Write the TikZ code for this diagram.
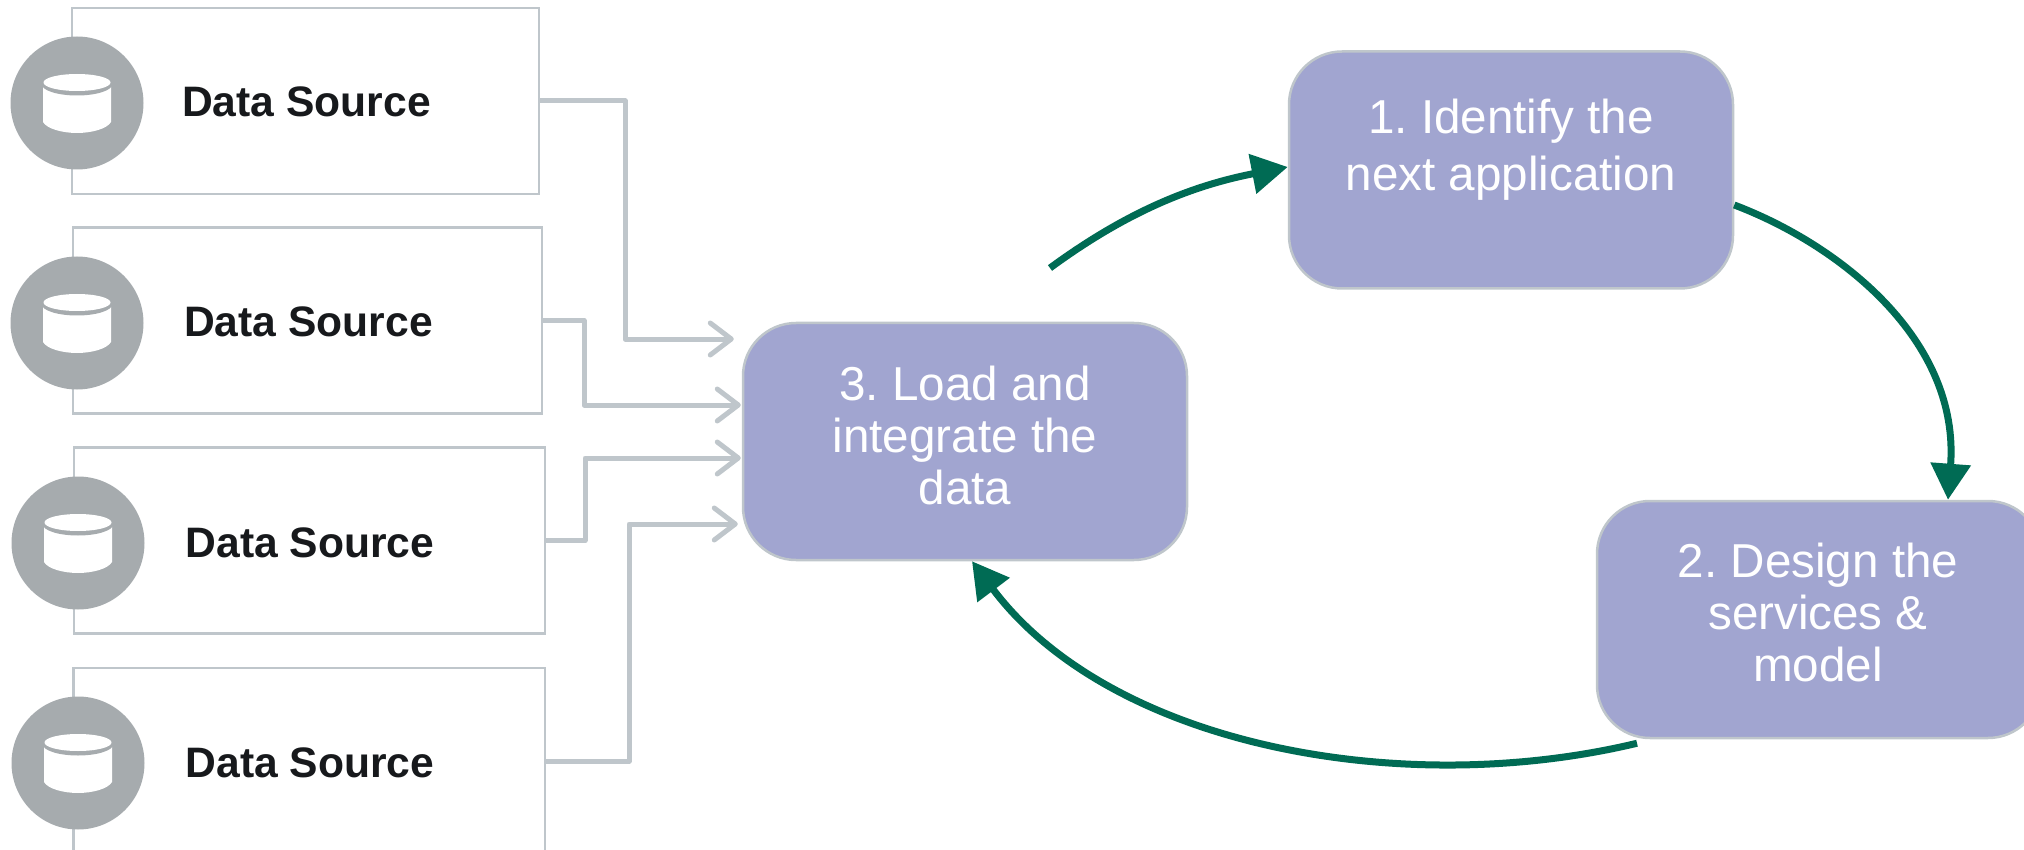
\documentclass[tikz,border=0pt]{standalone}
\usepackage{fontspec}
\setmainfont{Liberation Sans}
\frenchspacing
\usetikzlibrary{arrows.meta,calc}
\definecolor{edge}{HTML}{BFC6CB}
\definecolor{disc}{HTML}{A6ABAE}
\definecolor{stepfill}{HTML}{A1A5D0}
\definecolor{flowgreen}{HTML}{006B54}
\definecolor{ink}{HTML}{17191C}
\tikzset{
  srcbox/.style={draw=edge,line width=2.5pt,fill=white,rectangle,inner sep=0pt,minimum width=#1,minimum height=186pt},
  srctext/.style={anchor=base west,inner sep=0pt,text=ink,font=\fontsize{42.6}{48}\selectfont\bfseries},
  disccircle/.style={circle,fill=disc,inner sep=0pt,minimum size=133pt},
  stepbox/.style={draw=edge,line width=2.5pt,fill=stepfill,rectangle,rounded corners=53pt,inner sep=0pt,minimum width=444pt,minimum height=237pt},
  steptext/.style={anchor=north,inner sep=0pt,align=center,text=white,font=\fontsize{47.6}{52}\selectfont},
  feed/.style={draw=edge,line width=5pt,line join=round,-{Straight Barb[length=21pt,width=32pt,line width=5pt,round]}},
  flow/.style={draw=flowgreen,line width=7pt,-{Triangle[length=36pt,width=39pt]}},
  pics/dbicon/.style={code={
    \fill[white] (-34,-20) -- (-34,19) .. controls (-30,26) and (-14,30) .. (0,30) .. controls (14,30) and (30,26) .. (34,19) -- (34,-20) -- cycle;
    \fill[disc] (0,-19) ellipse [x radius=35.5,y radius=11.5];
    \fill[white] (0,-20.5) ellipse [x radius=33.5,y radius=8.5];
  }}
}
\begin{document}
\begin{tikzpicture}[x=1pt,y=-1pt]
\useasboundingbox (0,0) rectangle (2024,850);
\clip (0,0) rectangle (2024,850);
% source boxes
\node[srcbox=467pt] (s1) at (305.5,101) {};
\node[srcbox=469pt] (s2) at (307.5,320.5) {};
\node[srcbox=471pt] (s3) at (309.5,540.5) {};
\node[srcbox=471.5pt] (s4) at (309.25,761) {};
% discs
\node[disccircle] (d1) at (77,103) {};
\node[disccircle] (d2) at (77,323) {};
\node[disccircle] (d3) at (78,543) {};
\node[disccircle] (d4) at (78,763) {};
\path (d1.center) pic {dbicon};
\path (d2.center) pic {dbicon};
\path (d3.center) pic {dbicon};
\path (d4.center) pic {dbicon};
% labels
\node[srctext] (l1) at (182,117) {Data Source};
\node[srctext] (l2) at (184,337) {Data Source};
\node[srctext] (l3) at (185.5,557) {Data Source};
\node[srctext] (l4) at (185.5,777) {Data Source};
% step boxes
\node[stepbox] (b1) at (1511,170) {};
\node[stepbox] (b2) at (1819,619.5) {};
\node[stepbox] (b3) at (965,441.5) {};
\node[steptext] (t1) at (1511,99) {1. Identify the\\[5pt]next application};
\node[steptext] (t2) at (1818,543) {2. Design the\\services \&\\model};
\node[steptext] (t3) at (965,365.5) {3. Load and\\integrate the\\data};
% feeds
\coordinate (j1) at (625,339);
\coordinate (j2) at (584,405);
\coordinate (j3) at (585,458);
\coordinate (j4) at (629,524);
\draw[feed] (s1.east) -- (j1 |- s1.east) -- (j1) -- ([xshift=-8pt]b3.west |- j1);
\draw[feed] (s2.east) -- (j2 |- s2.east) -- (j2) -- ([xshift=-1pt]b3.west |- j2);
\draw[feed] (s3.east) -- (j3 |- s3.east) -- (j3) -- ([xshift=-1pt]b3.west |- j3);
\draw[feed] (s4.east) -- (j4 |- s4.east) -- (j4) -- ([xshift=-4pt]b3.west |- j4);
% cycle
\coordinate (a1) at (1050,268);
\draw[flow] (a1) .. controls (1125,213) and (1190,186) .. ([yshift=3pt]b1.west);
\draw[flow] ([yshift=-35pt]b1.east) .. controls (1840,245) and (1960,340) .. ([xshift=129pt]b2.north);
\draw[flow] ([xshift=-182pt,yshift=-4pt]b2.south) .. controls (1400,800) and (1110,745) .. ([xshift=7pt]b3.south);
\end{tikzpicture}
\end{document}
